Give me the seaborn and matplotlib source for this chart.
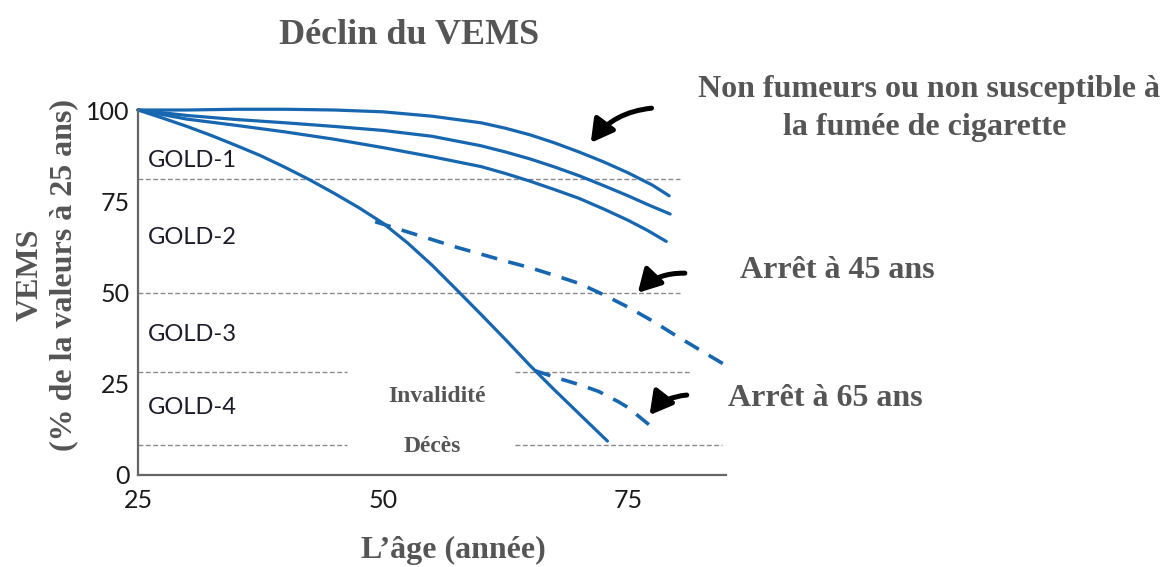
import matplotlib
matplotlib.use("Agg")
import matplotlib.pyplot as plt
import seaborn as sns

# ---- data --------------------------------------------------------------
age_non_smoker = [25, 30, 35, 40, 45, 50, 55, 60, 62.5, 65, 67.5, 70, 72.5,
                  75, 77.5, 79.2]
fev_non_smoker = [100, 100, 100.2, 100.2, 100, 99.5, 98.3, 96.5, 95.0, 93.2,
                  91.0, 88.5, 85.8, 82.8, 79.4, 76.5]

age_mid = [25, 30, 35, 40, 45, 50, 55, 60, 62.5, 65, 67.5, 70, 72.5, 75,
           77, 79.3]
fev_mid = [100, 98.5, 97.4, 96.5, 95.5, 94.4, 92.8, 90.2, 88.5, 86.6, 84.4,
           82.0, 79.3, 76.5, 74.1, 71.5]

age_low = [25, 30, 35, 40, 45, 50, 55, 60, 62.5, 65, 67.5, 70, 72.5, 75,
           77, 78.9]
fev_low = [100, 97.5, 95.8, 94.0, 92.0, 89.7, 87.2, 84.5, 82.6, 80.5, 78.2,
           75.8, 72.9, 69.8, 67.0, 64.0]

age_smoker = [25, 27.5, 30, 32.5, 35, 37.5, 40, 42.5, 45, 47.5, 50, 52.5, 55,
              57.5, 60, 62.5, 65, 67.5, 70, 72.9]
fev_smoker = [100, 97.8, 95.5, 93.0, 90.3, 87.5, 84.3, 80.9, 77.2, 73.3,
              69.0, 63.6, 57.5, 50.8, 44.0, 37.1, 30.0, 23.3, 16.8, 9.3]

age_stop45 = [49.2, 52.5, 55, 57.5, 60, 62.5, 65, 67.5, 70, 72.5, 75, 77.5,
              80, 82.5, 85]
fev_stop45 = [69.4, 66.6, 64.5, 62.4, 60.5, 58.6, 56.8, 54.7, 52.5, 49.4,
              46.0, 42.2, 38.0, 34.0, 30.0]

age_stop65 = [65.5, 68, 70, 72, 73, 74, 75, 76, 77.5]
fev_stop65 = [28.6, 26.4, 24.8, 22.9, 21.5, 20.1, 18.5, 16.3, 13.0]

# GOLD thresholds: (level, start, end) segments
gold_levels = [81.2, 50, 28.3, 28.3, 8.3, 8.3]
gold_starts = [25, 25, 25, 63.5, 25, 63.5]
gold_ends = [80.3, 80.3, 46.3, 81.3, 46.3, 84.6]

gold_names = ["GOLD-1", "GOLD-2", "GOLD-3", "GOLD-4"]
gold_label_y = [86.3, 65.2, 38.6, 18.4]

x_ticks = [25, 30, 35, 40, 45, 50, 55, 60, 65, 70, 75, 80, 85]
x_tick_labels = ["25", "", "", "", "", "50", "", "", "", "", "75", "", ""]
y_ticks = [0, 25, 50, 75, 100]

BLUE = "#1766b0"
GREY_TXT = "#555555"
W, H = 1163, 567


def fx(px):
    return px / W


def fy(py):
    return 1 - py / H


sns.set_style("white")
plt.rcParams["font.family"] = ["Lato", "DejaVu Sans"]

fig = plt.figure(figsize=(W / 100, H / 100), dpi=100)
ax = fig.add_axes([fx(138), fy(475), (726 - 138) / W, (475 - 110) / H])

# ---- curves ------------------------------------------------------------
solid = [(age_non_smoker, fev_non_smoker), (age_mid, fev_mid),
         (age_low, fev_low), (age_smoker, fev_smoker)]
for ages, fev in solid:
    sns.lineplot(x=ages, y=fev, ax=ax, color=BLUE, lw=2.3,
                 estimator=None, sort=False, clip_on=False)

for ages, fev in [(age_stop45, fev_stop45), (age_stop65, fev_stop65)]:
    sns.lineplot(x=ages, y=fev, ax=ax, color=BLUE, lw=2.6,
                 estimator=None, sort=False, clip_on=False,
                 dashes=False, linestyle=(0, (4.5, 3.2)))

# ---- GOLD reference lines ---------------------------------------------
for lvl, x0, x1 in zip(gold_levels, gold_starts, gold_ends):
    ax.plot([x0, x1], [lvl, lvl], color="#8a8a8a", lw=1.0,
            linestyle=(0, (3.5, 1.8)), clip_on=False, zorder=1)

for name, yv in zip(gold_names, gold_label_y):
    ax.text(26.0, yv, name, fontsize=17, color="#1b1b2a",
            family=["Lato", "DejaVu Sans"], va="center", ha="left")

serif = ["Liberation Serif", "DejaVu Serif"]
ax.text(55.5, 21.6, "Invalidité", fontsize=17, fontweight="bold",
        color=GREY_TXT, family=serif, ha="center", va="center")
ax.text(55.0, 7.7, "Décès", fontsize=17, fontweight="bold",
        color=GREY_TXT, family=serif, ha="center", va="center")

# ---- arrows ------------------------------------------------------------
arrow_kw = dict(arrowstyle="-|>,head_length=0.75,head_width=0.42",
                color="black", lw=3.6, mutation_scale=18,
                connectionstyle="arc3,rad=0.22", shrinkA=0, shrinkB=0)
ax.annotate("", xy=(71.2, 91.0), xytext=(77.4, 100.5),
            arrowprops=arrow_kw, annotation_clip=False)
ax.annotate("", xy=(76.0, 49.9), xytext=(80.8, 55.3),
            arrowprops=arrow_kw, annotation_clip=False)
ax.annotate("", xy=(77.2, 16.4), xytext=(81.0, 21.9),
            arrowprops=arrow_kw, annotation_clip=False)

# ---- axes styling ------------------------------------------------------
ax.set_xlim(25, 85)
ax.set_ylim(0, 100)
ax.set_xticks(x_ticks)
ax.set_xticklabels(x_tick_labels)
ax.set_yticks(y_ticks)
ax.tick_params(axis="x", direction="in", length=9, width=1.3,
               color="#555555", labelsize=18, labelcolor="#1a1a1a", pad=10)
ax.tick_params(axis="y", direction="in", length=7, width=1.3,
               color="#555555", labelsize=18, labelcolor="#1a1a1a", pad=6)
for side in ["top", "right"]:
    ax.spines[side].set_visible(False)
for side in ["left", "bottom"]:
    ax.spines[side].set_color("#666666")
    ax.spines[side].set_linewidth(1.6)
ax.set_xlabel("")
ax.set_ylabel("")

# ---- figure texts ------------------------------------------------------
txt_kw = dict(family=serif, fontweight="bold", color=GREY_TXT,
              ha="center", va="center")
fig.text(fx(409), fy(35), "Déclin du VEMS", fontsize=26, **txt_kw)
fig.text(fx(929), fy(90), "Non fumeurs ou non susceptible à",
         fontsize=23, **txt_kw)
fig.text(fx(925), fy(128), "la fumée de cigarette", fontsize=23, **txt_kw)
fig.text(fx(837), fy(271), "Arrêt à 45 ans", fontsize=23, **txt_kw)
fig.text(fx(825), fy(399), "Arrêt à 65 ans", fontsize=23, **txt_kw)
fig.text(fx(453), fy(550), "L\u2019âge (année)", fontsize=23, **txt_kw)
fig.text(fx(47), fy(275), "VEMS\n(% de la valeurs à 25 ans)",
         fontsize=23, rotation=90, linespacing=1.2, **txt_kw)

fig.savefig("out.png", dpi=100, facecolor="white")
